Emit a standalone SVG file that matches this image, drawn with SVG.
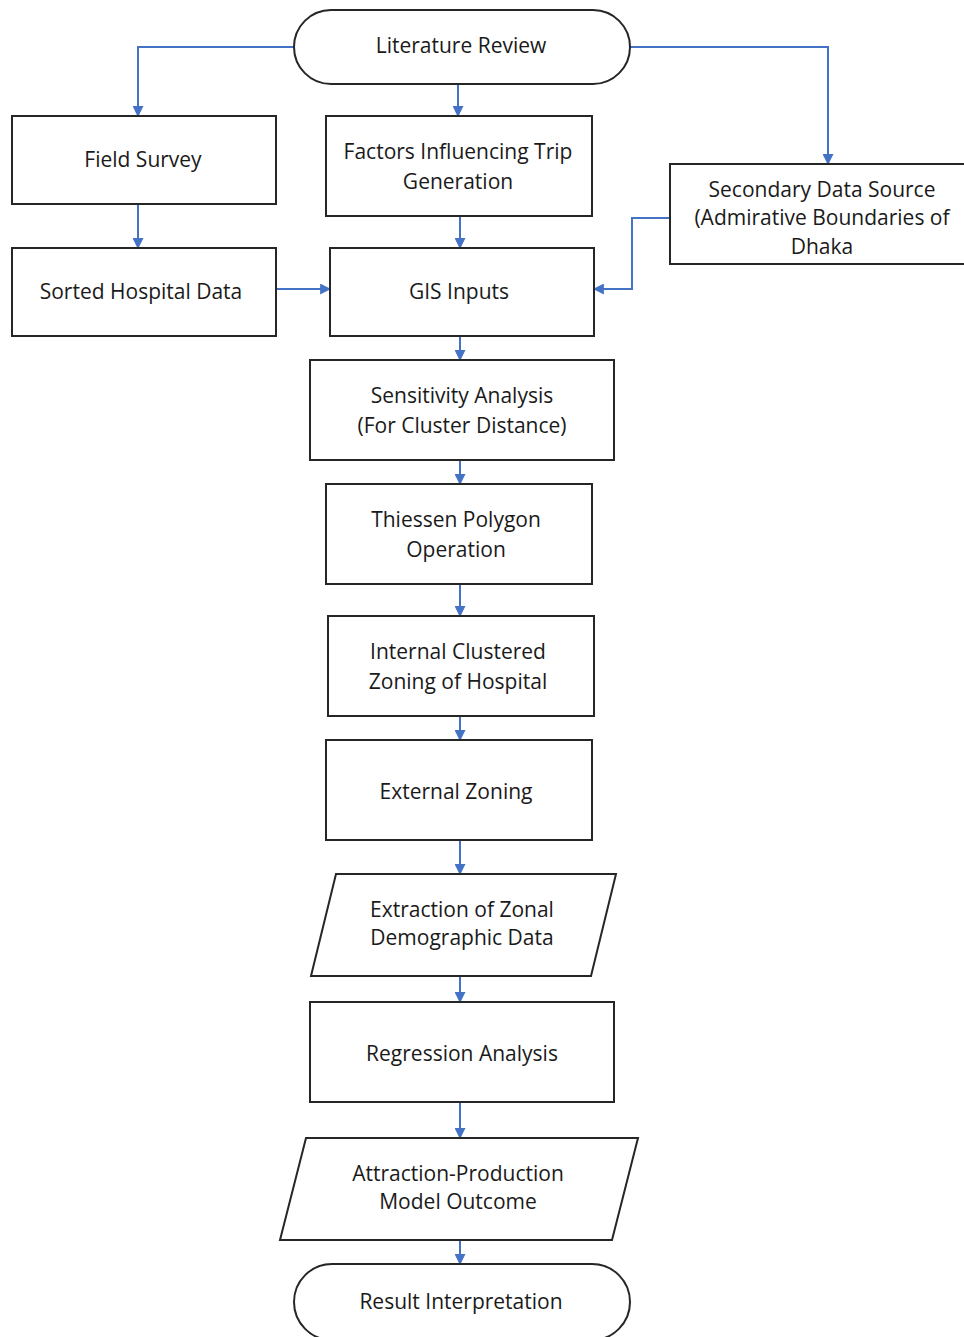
<svg xmlns="http://www.w3.org/2000/svg" width="964" height="1337" viewBox="0 0 964 1337">
<style>
.n{fill:#fff;stroke:#262626;stroke-width:2}
.t{font-family:"Open Sans","Liberation Sans",sans-serif;font-size:21px;fill:#1a1a1a;text-anchor:middle}
.c{fill:none;stroke:#4472C4;stroke-width:2;marker-end:url(#ah)}
</style>
<defs>
<marker id="ah" viewBox="0 0 10 10" refX="9" refY="5" markerWidth="5.5" markerHeight="5.5" orient="auto" markerUnits="strokeWidth">
<path d="M0,0 L10,5 L0,10 z" fill="#4472C4"/>
</marker>
</defs>
<rect width="964" height="1337" fill="#fff"/>
<g id="connectors">
<path class="c" d="M294,47 H138 V116"/>
<path class="c" d="M458,84 V116"/>
<path class="c" d="M630,47 H828 V164"/>
<path class="c" d="M138,204 V248"/>
<path class="c" d="M460,216 V248"/>
<path class="c" d="M276,289 H330"/>
<path class="c" d="M670,218 H632 V289 H594"/>
<path class="c" d="M460,336 V360"/>
<path class="c" d="M460,460 V484"/>
<path class="c" d="M460,584 V616"/>
<path class="c" d="M460,716 V740"/>
<path class="c" d="M460,840 V874"/>
<path class="c" d="M460,976 V1002"/>
<path class="c" d="M460,1102 V1138"/>
<path class="c" d="M460,1240 V1264"/>
</g>
<g id="literature-review">
<rect class="n" x="294" y="10" width="336" height="74" rx="37"/>
<text class="t" x="461" y="53">Literature Review</text>
</g>
<g id="field-survey">
<rect class="n" x="12" y="116" width="264" height="88"/>
<text class="t" x="143" y="167">Field Survey</text>
</g>
<g id="factors">
<rect class="n" x="326" y="116" width="266" height="100"/>
<text class="t" x="458" y="159">Factors Influencing Trip</text>
<text class="t" x="458" y="189">Generation</text>
</g>
<g id="secondary-data">
<rect class="n" x="670" y="164" width="300" height="100"/>
<text class="t" x="822" y="197">Secondary Data Source</text>
<text class="t" x="822" y="225">(Admirative Boundaries of</text>
<text class="t" x="822" y="254">Dhaka</text>
</g>
<g id="sorted-hospital-data">
<rect class="n" x="12" y="248" width="264" height="88"/>
<text class="t" x="141" y="299">Sorted Hospital Data</text>
</g>
<g id="gis-inputs">
<rect class="n" x="330" y="248" width="264" height="88"/>
<text class="t" x="459" y="299">GIS Inputs</text>
</g>
<g id="sensitivity-analysis">
<rect class="n" x="310" y="360" width="304" height="100"/>
<text class="t" x="462" y="403">Sensitivity Analysis</text>
<text class="t" x="462" y="433">(For Cluster Distance)</text>
</g>
<g id="thiessen-polygon">
<rect class="n" x="326" y="484" width="266" height="100"/>
<text class="t" x="456" y="527">Thiessen Polygon</text>
<text class="t" x="456" y="557">Operation</text>
</g>
<g id="internal-zoning">
<rect class="n" x="328" y="616" width="266" height="100"/>
<text class="t" x="458" y="659">Internal Clustered</text>
<text class="t" x="458" y="689">Zoning of Hospital</text>
</g>
<g id="external-zoning">
<rect class="n" x="326" y="740" width="266" height="100"/>
<text class="t" x="456" y="799">External Zoning</text>
</g>
<g id="extraction">
<polygon class="n" points="336,874 616,874 591,976 311,976"/>
<text class="t" x="462" y="917">Extraction of Zonal</text>
<text class="t" x="462" y="945">Demographic Data</text>
</g>
<g id="regression-analysis">
<rect class="n" x="310" y="1002" width="304" height="100"/>
<text class="t" x="462" y="1061">Regression Analysis</text>
</g>
<g id="attraction-production">
<polygon class="n" points="306,1138 638,1138 612,1240 280,1240"/>
<text class="t" x="458" y="1181">Attraction-Production</text>
<text class="t" x="458" y="1209">Model Outcome</text>
</g>
<g id="result-interpretation">
<rect class="n" x="294" y="1264" width="336" height="76" rx="38"/>
<text class="t" x="461" y="1309">Result Interpretation</text>
</g>
</svg>
